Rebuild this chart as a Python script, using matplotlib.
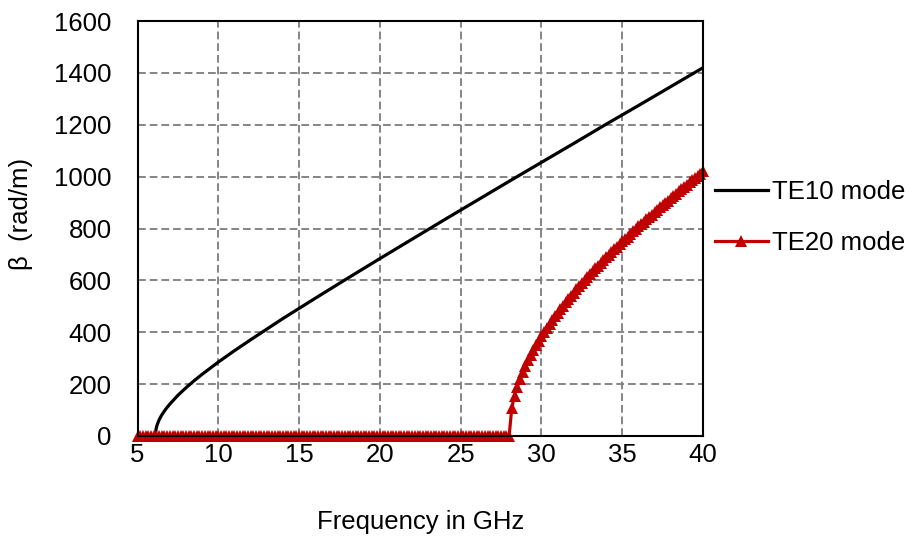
import numpy as np
from matplotlib import pyplot as plt

plt.rcParams['font.family'] = ['Liberation Sans', 'DejaVu Sans']

# TE10 mode: propagation constant (rad/m)
freq_te10 = [5, 6, 6.1, 6.15, 6.2, 6.3, 6.4, 6.5, 6.75, 7, 7.5, 8, 8.5, 9, 10, 11, 12,
             14, 16, 18, 20, 22, 24, 26, 28, 30, 32, 34, 36, 38, 40]
beta_te10 = [0, 0, 0, 28, 40, 57, 70, 81, 104, 123, 157, 186, 213, 238, 285, 329, 371,
             453, 531, 608, 684, 759, 834, 908, 982, 1055, 1128, 1202, 1274, 1347, 1420]

# TE20 mode: one marker every 1/6 GHz from 5 to 40 GHz, zero below ~28 GHz
freq_te20 = np.linspace(5, 40, 211)
beta_te20_above = [109, 155, 190, 219, 246, 270, 292, 312, 332, 350, 368, 385,
                   401, 417, 432, 447, 461, 475, 489, 502, 515, 528, 541, 553,
                   565, 577, 589, 601, 612, 624, 635, 646, 657, 667, 678, 689,
                   699, 709, 720, 730, 740, 750, 760, 769, 779, 789, 798, 808,
                   817, 827, 836, 845, 854, 864, 873, 882, 891, 900, 908, 917,
                   926, 935, 943, 952, 961, 969, 978, 986, 995, 1003, 1012, 1020]
beta_te20 = [0] * (211 - len(beta_te20_above)) + beta_te20_above

fs = 18.5

fig = plt.figure(figsize=(9.15, 5.41), dpi=100)
ax = fig.add_axes([0.1503, 0.1941, 0.618, 0.767])

ax.plot(freq_te10, beta_te10, color='black', linewidth=2.3, label='TE10 mode', zorder=3)
ax.plot(freq_te20, beta_te20, color='#C00000', linewidth=2.3, marker='^', markersize=8,
        markeredgewidth=0, label='TE20 mode', clip_on=False, zorder=4)

ax.set_xlim(5, 40)
ax.set_ylim(0, 1600)
ax.set_xticks(range(5, 41, 5))
ax.set_yticks(range(0, 1601, 200))
ax.tick_params(length=0, labelsize=fs)
ax.tick_params(axis='y', pad=18.5)
ax.tick_params(axis='x', pad=5)
ax.grid(visible=True, color='#858585', linestyle=(0, (4, 2)), linewidth=1.4)
ax.set_axisbelow(True)
for s in ax.spines.values():
  s.set_linewidth(1.5)
  s.set_color('black')
  s.set_zorder(5)

ax.set_xlabel('Frequency in GHz', fontsize=fs, labelpad=31)
ax.set_ylabel('\u03b2  (rad/m)', fontsize=fs)
ax.yaxis.set_label_coords(-0.185, 0.536)

ax.legend(loc='upper left', bbox_to_anchor=(0.781, 0.667), bbox_transform=fig.transFigure,
          frameon=False, borderpad=0, borderaxespad=0, fontsize=fs, handlelength=2.06,
          handletextpad=0.16, labelspacing=1.05, numpoints=1)

fig.savefig('out.png', dpi=100)
